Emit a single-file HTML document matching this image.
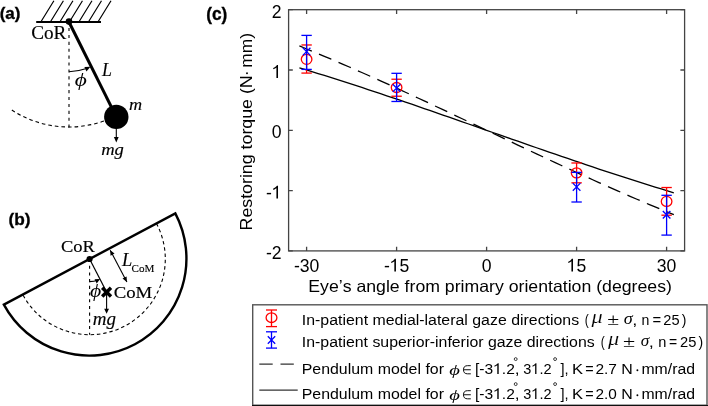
<!DOCTYPE html>
<html><head><meta charset="utf-8"><style>
html,body{margin:0;padding:0;background:#fff;width:708px;height:406px;overflow:hidden}
svg{display:block;will-change:transform}
text{font-family:"Liberation Sans",sans-serif;font-size:17.6px;fill:#000;font-kerning:none}
.serif{font-family:"Liberation Serif",serif}
.it{font-style:italic}
.bold{font-weight:bold}
</style></head><body>
<svg width="708" height="406" viewBox="0 0 708 406">
<polyline points="299.40,45.96 305.64,48.50 311.88,51.07 318.12,53.66 324.36,56.28 330.60,58.93 336.84,61.60 343.08,64.29 349.32,67.00 355.56,69.73 361.80,72.49 368.04,75.26 374.28,78.05 380.52,80.85 386.76,83.68 393.00,86.52 399.24,89.37 405.48,92.24 411.72,95.12 417.96,98.01 424.20,100.91 430.44,103.82 436.68,106.74 442.92,109.67 449.16,112.60 455.40,115.54 461.64,118.49 467.88,121.44 474.12,124.39 480.36,127.34 486.60,130.30 492.84,133.26 499.08,136.21 505.32,139.16 511.56,142.11 517.80,145.06 524.04,148.00 530.28,150.93 536.52,153.86 542.76,156.78 549.00,159.69 555.24,162.59 561.48,165.48 567.72,168.36 573.96,171.23 580.20,174.08 586.44,176.92 592.68,179.75 598.92,182.55 605.16,185.34 611.40,188.11 617.64,190.87 623.88,193.60 630.12,196.31 636.36,199.00 642.60,201.67 648.84,204.32 655.08,206.94 661.32,209.53 667.56,212.10 673.80,214.64" fill="none" stroke="#000" stroke-width="1.3" stroke-dasharray="13.4 7.8"/>
<polyline points="299.40,67.83 305.64,69.71 311.88,71.61 318.12,73.53 324.36,75.47 330.60,77.43 336.84,79.41 343.08,81.40 349.32,83.41 355.56,85.43 361.80,87.47 368.04,89.53 374.28,91.59 380.52,93.67 386.76,95.77 393.00,97.87 399.24,99.98 405.48,102.11 411.72,104.24 417.96,106.38 424.20,108.53 430.44,110.69 436.68,112.85 442.92,115.02 449.16,117.19 455.40,119.37 461.64,121.55 467.88,123.74 474.12,125.92 480.36,128.11 486.60,130.30 492.84,132.49 499.08,134.68 505.32,136.86 511.56,139.05 517.80,141.23 524.04,143.41 530.28,145.58 536.52,147.75 542.76,149.91 549.00,152.07 555.24,154.22 561.48,156.36 567.72,158.49 573.96,160.62 580.20,162.73 586.44,164.83 592.68,166.93 598.92,169.01 605.16,171.07 611.40,173.13 617.64,175.17 623.88,177.19 630.12,179.20 636.36,181.19 642.60,183.17 648.84,185.13 655.08,187.07 661.32,188.99 667.56,190.89 673.80,192.77" fill="none" stroke="#000" stroke-width="1.3"/>
<line x1="306.60" y1="44.98" x2="306.60" y2="73.08" stroke="#ff0000" stroke-width="1.3"/><line x1="301.40" y1="44.98" x2="311.80" y2="44.98" stroke="#ff0000" stroke-width="1.3"/><line x1="301.40" y1="73.08" x2="311.80" y2="73.08" stroke="#ff0000" stroke-width="1.3"/>
<line x1="396.60" y1="79.23" x2="396.60" y2="96.23" stroke="#ff0000" stroke-width="1.3"/><line x1="391.40" y1="79.23" x2="401.80" y2="79.23" stroke="#ff0000" stroke-width="1.3"/><line x1="391.40" y1="96.23" x2="401.80" y2="96.23" stroke="#ff0000" stroke-width="1.3"/>
<line x1="576.60" y1="162.98" x2="576.60" y2="182.82" stroke="#ff0000" stroke-width="1.3"/><line x1="571.40" y1="162.98" x2="581.80" y2="162.98" stroke="#ff0000" stroke-width="1.3"/><line x1="571.40" y1="182.82" x2="581.80" y2="182.82" stroke="#ff0000" stroke-width="1.3"/>
<line x1="666.60" y1="187.52" x2="666.60" y2="215.20" stroke="#ff0000" stroke-width="1.3"/><line x1="661.40" y1="187.52" x2="671.80" y2="187.52" stroke="#ff0000" stroke-width="1.3"/><line x1="661.40" y1="215.20" x2="671.80" y2="215.20" stroke="#ff0000" stroke-width="1.3"/>
<ellipse cx="306.60" cy="59.33" rx="5.3" ry="5.0" fill="none" stroke="#ff0000" stroke-width="1.3"/>
<ellipse cx="396.60" cy="87.49" rx="5.3" ry="5.0" fill="none" stroke="#ff0000" stroke-width="1.3"/>
<ellipse cx="576.60" cy="172.87" rx="5.3" ry="5.0" fill="none" stroke="#ff0000" stroke-width="1.3"/>
<ellipse cx="666.60" cy="201.39" rx="5.3" ry="5.0" fill="none" stroke="#ff0000" stroke-width="1.3"/>
<line x1="306.60" y1="35.39" x2="306.60" y2="69.40" stroke="#0000ff" stroke-width="1.3"/><line x1="301.40" y1="35.39" x2="311.80" y2="35.39" stroke="#0000ff" stroke-width="1.3"/><line x1="301.40" y1="69.40" x2="311.80" y2="69.40" stroke="#0000ff" stroke-width="1.3"/>
<line x1="396.60" y1="73.32" x2="396.60" y2="101.48" stroke="#0000ff" stroke-width="1.3"/><line x1="391.40" y1="73.32" x2="401.80" y2="73.32" stroke="#0000ff" stroke-width="1.3"/><line x1="391.40" y1="101.48" x2="401.80" y2="101.48" stroke="#0000ff" stroke-width="1.3"/>
<line x1="576.60" y1="172.39" x2="576.60" y2="202.00" stroke="#0000ff" stroke-width="1.3"/><line x1="571.40" y1="172.39" x2="581.80" y2="172.39" stroke="#0000ff" stroke-width="1.3"/><line x1="571.40" y1="202.00" x2="581.80" y2="202.00" stroke="#0000ff" stroke-width="1.3"/>
<line x1="666.60" y1="195.30" x2="666.60" y2="235.10" stroke="#0000ff" stroke-width="1.3"/><line x1="661.40" y1="195.30" x2="671.80" y2="195.30" stroke="#0000ff" stroke-width="1.3"/><line x1="661.40" y1="235.10" x2="671.80" y2="235.10" stroke="#0000ff" stroke-width="1.3"/>
<path d="M302.80 47.81L310.40 55.41M302.80 55.41L310.40 47.81" stroke="#0000ff" stroke-width="1.3" fill="none"/>
<path d="M392.80 84.29L400.40 91.89M392.80 91.89L400.40 84.29" stroke="#0000ff" stroke-width="1.3" fill="none"/>
<path d="M572.80 183.12L580.40 190.72M572.80 190.72L580.40 183.12" stroke="#0000ff" stroke-width="1.3" fill="none"/>
<path d="M662.80 210.98L670.40 218.58M662.80 218.58L670.40 210.98" stroke="#0000ff" stroke-width="1.3" fill="none"/>
<rect x="288.60" y="9.70" width="396.00" height="241.20" fill="none" stroke="#444" stroke-width="1.3"/>
<path d="M306.60 250.90V246.70M306.60 9.70V13.90M396.60 250.90V246.70M396.60 9.70V13.90M486.60 250.90V246.70M486.60 9.70V13.90M576.60 250.90V246.70M576.60 9.70V13.90M666.60 250.90V246.70M666.60 9.70V13.90M288.60 250.90H292.80M684.60 250.90H680.40M288.60 190.60H292.80M684.60 190.60H680.40M288.60 130.30H292.80M684.60 130.30H680.40M288.60 70.00H292.80M684.60 70.00H680.40M288.60 9.70H292.80M684.60 9.70H680.40" stroke="#444" stroke-width="1.3" fill="none"/>
<g transform="translate(293.88 271.60) scale(1.0000 1.0400)"><text x="0.00" y="0" style="font-size:17.6px">-30</text></g>
<g transform="translate(383.88 271.60) scale(1.0000 1.0400)"><text x="0.00" y="0" style="font-size:17.6px">-</text><polygon points="12.06,0.00 12.06,-12.32 10.96,-12.32 10.35,-11.53 9.47,-10.74 8.32,-10.03 7.30,-9.59 7.30,-8.24 8.50,-8.75 9.56,-9.33 10.47,-9.94 10.47,0.00" fill="#000"/><text x="15.65" y="0" style="font-size:17.6px">5</text></g>
<g transform="translate(481.71 271.60) scale(1.0000 1.0400)"><text x="0.00" y="0" style="font-size:17.6px">0</text></g>
<g transform="translate(566.81 271.60) scale(1.0000 1.0400)"><polygon points="6.20,0.00 6.20,-12.32 5.10,-12.32 4.49,-11.53 3.61,-10.74 2.46,-10.03 1.44,-9.59 1.44,-8.24 2.64,-8.75 3.70,-9.33 4.61,-9.94 4.61,0.00" fill="#000"/><text x="9.79" y="0" style="font-size:17.6px">5</text></g>
<g transform="translate(656.81 271.60) scale(1.0000 1.0400)"><text x="0.00" y="0" style="font-size:17.6px">30</text></g>
<g transform="translate(271.81 17.60) scale(1.0000 1.0400)"><text x="0.00" y="0" style="font-size:17.6px">2</text></g>
<g transform="translate(271.81 77.90) scale(1.0000 1.0400)"><polygon points="6.20,0.00 6.20,-12.32 5.10,-12.32 4.49,-11.53 3.61,-10.74 2.46,-10.03 1.44,-9.59 1.44,-8.24 2.64,-8.75 3.70,-9.33 4.61,-9.94 4.61,0.00" fill="#000"/></g>
<g transform="translate(271.81 138.20) scale(1.0000 1.0400)"><text x="0.00" y="0" style="font-size:17.6px">0</text></g>
<g transform="translate(265.95 198.50) scale(1.0000 1.0400)"><text x="0.00" y="0" style="font-size:17.6px">-</text><polygon points="12.06,0.00 12.06,-12.32 10.96,-12.32 10.35,-11.53 9.47,-10.74 8.32,-10.03 7.30,-9.59 7.30,-8.24 8.50,-8.75 9.56,-9.33 10.47,-9.94 10.47,0.00" fill="#000"/></g>
<g transform="translate(265.95 258.80) scale(1.0000 1.0400)"><text x="0.00" y="0" style="font-size:17.6px">-2</text></g>
<g transform="translate(308.25 292.30) scale(1.0058 0.9850)"><text x="0.00" y="0" style="font-size:17.6px">Eye’s angle from primary orientation (degrees)</text></g>
<g transform="translate(251.6 229.3) rotate(-90)"><g transform="translate(-1.16 0.00) scale(1.0113 0.9850)"><text x="0.00" y="0" style="font-size:17.6px">Restoring torque (N</text></g><circle cx="156.1" cy="-4.6" r="0.95" fill="#000"/><g transform="translate(161.55 0.00) scale(0.9872 0.9850)"><text x="0.00" y="0" style="font-size:17.6px">mm)</text></g></g>
<path d="M40.80 22L53.90 0.8M50.32 22L63.42 0.8M59.84 22L72.94 0.8M69.36 22L82.46 0.8M78.88 22L91.98 0.8M88.40 22L101.50 0.8M97.92 22L111.02 0.8" stroke="#000" stroke-width="1.2" fill="none"/>
<line x1="36.2" y1="22" x2="101" y2="22" stroke="#000" stroke-width="2.2"/>
<line x1="69" y1="22" x2="69" y2="127.5" stroke="#000" stroke-width="1.1" stroke-dasharray="3.1 3.8" stroke-dashoffset="0.9"/>
<path d="M11.81 110.06A105 105 0 0 0 115.03 116.37" stroke="#000" stroke-width="1.1" fill="none" stroke-dasharray="3.6 3"/>
<line x1="69" y1="22" x2="116.3" y2="116.9" stroke="#000" stroke-width="3"/>
<circle cx="69" cy="21.6" r="3.3" fill="#000"/>
<circle cx="116.3" cy="116.9" r="12.2" fill="#000"/>
<line x1="116.3" y1="128" x2="116.3" y2="138" stroke="#000" stroke-width="1.1"/>
<path d="M113.9 137L118.7 137L116.3 142.4Z" fill="#000"/>
<path d="M69.00 71.70A49.7 49.7 0 0 0 85.59 68.85" stroke="#000" stroke-width="1.1" fill="none"/>
<path d="M90.40 66.86L86.47 71.39L84.40 67.06Z" fill="#000"/>
<text transform="translate(31.21 39.22) scale(1.016 1)" class="serif" style="font-size:18.90px" stroke="#000" stroke-width="0.15">CoR</text>
<text transform="translate(102.11 75.50) scale(0.959 1)" class="serif it" style="font-size:18.63px" stroke="#000" stroke-width="0.15">L</text>
<text transform="translate(74.76 86.31) scale(1.245 1)" class="serif it" style="font-size:18.75px">ϕ</text>
<text transform="translate(128.94 110.20) scale(1.157 1)" class="serif it" style="font-size:15.70px" stroke="#000" stroke-width="0.15">m</text>
<text transform="translate(101.13 155.16) scale(1.087 1)" class="serif it" style="font-size:17.10px" stroke="#000" stroke-width="0.15">mg</text>
<path d="M3.87 304.59L175.33 213.41A97.1 97.1 0 0 1 3.87 304.59Z" fill="none" stroke="#000" stroke-width="2.4" stroke-linejoin="miter"/>
<path d="M156.44 223.46A75.7 75.7 0 0 1 22.76 294.54" fill="none" stroke="#000" stroke-width="1.1" stroke-dasharray="3.5 2.8"/>
<line x1="89.6" y1="259.0" x2="89.6" y2="334.7" stroke="#000" stroke-width="1.1" stroke-dasharray="3.1 3.6"/>
<line x1="89.6" y1="259.0" x2="106.60" y2="292.10" stroke="#000" stroke-width="1.2"/>
<circle cx="89.6" cy="259.0" r="3.1" fill="#000"/>
<path d="M102.20 287.70L111.00 296.50M102.20 296.50L111.00 287.70" stroke="#000" stroke-width="3.4"/>
<line x1="106.60" y1="292.10" x2="106.60" y2="309.5" stroke="#000" stroke-width="1.1"/>
<path d="M104.20 308.8L109.00 308.8L106.60 313.8Z" fill="#000"/>
<line x1="110.20" y1="250.20" x2="126.90" y2="281.90" stroke="#000" stroke-width="1.1"/>
<path d="M126.90 281.90L122.52 278.57L126.58 276.41Z" fill="#000"/>
<path d="M110.20 250.20L114.58 253.53L110.52 255.69Z" fill="#000"/>
<path d="M89.60 281.60A22.6 22.6 0 0 0 98.07 279.95" stroke="#000" stroke-width="1.1" fill="none"/>
<path d="M100.04 279.05L96.70 283.42L94.54 279.36Z" fill="#000"/>
<text transform="translate(60.94 251.73) scale(1.046 1)" class="serif" style="font-size:17.71px" stroke="#000" stroke-width="0.15">CoR</text>
<text transform="translate(113.63 297.74) scale(1.137 1)" class="serif" style="font-size:16.52px" stroke="#000" stroke-width="0.15">CoM</text>
<text transform="translate(122.02 265.50) scale(1.015 1)" class="serif it" style="font-size:18.17px" stroke="#000" stroke-width="0.15">L</text>
<text transform="translate(131.54 271.90) scale(1.084 1)" class="serif" style="font-size:10.27px" stroke="#000" stroke-width="0.12">CoM</text>
<text transform="translate(90.00 296.65) scale(1.197 1)" class="serif it" style="font-size:18.09px">ϕ</text>
<text transform="translate(92.71 325.32) scale(0.993 1)" class="serif it" style="font-size:19.15px" stroke="#000" stroke-width="0.15">mg</text>
<text transform="translate(-0.35 19.22) scale(0.985 1)" class="bold" style="font-size:17.27px" stroke="#000" stroke-width="0.35">(a)</text>
<text transform="translate(8.54 224.89) scale(0.992 1)" class="bold" style="font-size:17.38px" stroke="#000" stroke-width="0.35">(b)</text>
<text transform="translate(206.14 20.13) scale(0.976 1)" class="bold" style="font-size:17.70px" stroke="#000" stroke-width="0.35">(c)</text>
<rect x="252.7" y="304.8" width="454.3" height="100.4" fill="#fff" stroke="#555" stroke-width="1.4"/>
<line x1="252" y1="405.5" x2="708" y2="405.5" stroke="#111" stroke-width="1.1"/>
<line x1="271.5" y1="310" x2="271.5" y2="326.6" stroke="#ff0000" stroke-width="1.3"/><line x1="266" y1="310" x2="277" y2="310" stroke="#ff0000" stroke-width="1.3"/><line x1="266" y1="326.6" x2="277" y2="326.6" stroke="#ff0000" stroke-width="1.3"/><ellipse cx="271.5" cy="317.7" rx="5.4" ry="4.8" fill="none" stroke="#ff0000" stroke-width="1.3"/>
<line x1="271.5" y1="331.8" x2="271.5" y2="348.1" stroke="#0000ff" stroke-width="1.3"/><line x1="266" y1="331.8" x2="277" y2="331.8" stroke="#0000ff" stroke-width="1.3"/><line x1="266" y1="348.1" x2="277" y2="348.1" stroke="#0000ff" stroke-width="1.3"/><path d="M267.8 336.3L275.2 343.7M267.8 343.7L275.2 336.3" stroke="#0000ff" stroke-width="1.3"/>
<line x1="259.3" y1="364.2" x2="293.8" y2="364.2" stroke="#333" stroke-width="1.3" stroke-dasharray="13.4 7.8"/>
<line x1="259.3" y1="390.2" x2="297.7" y2="390.2" stroke="#333" stroke-width="1.3"/>
<g transform="translate(301.83 325.00) scale(1.0389 1.0000)"><text x="0.00" y="0" style="font-size:15.3px">In-patient medial-lateral gaze directions</text></g>
<g transform="translate(584.65 325.00) scale(0.7888 1.0000)"><text x="0.00" y="0" style="font-size:15.3px">(</text></g>
<text transform="translate(591.52 323.32) scale(1.233 1)" class="serif it" style="font-size:18.13px" stroke="#fff" stroke-width="0.15">μ</text>
<text transform="translate(607.30 325.30) scale(1.226 1)" class="serif" style="font-size:17.70px">±</text>
<text transform="translate(623.66 324.15) scale(1.151 1)" class="serif it" style="font-size:15.80px">σ</text>
<g transform="translate(632.25 325.00) scale(1.1987 1.0000)"><text x="0.00" y="0" style="font-size:15.3px">,</text></g>
<g transform="translate(641.56 325.00) scale(0.9231 1.0000)"><text x="0.00" y="0" style="font-size:15.3px">n</text></g>
<g transform="translate(652.38 325.00) scale(0.9686 1.0000)"><text x="0.00" y="0" style="font-size:15.3px">=</text></g>
<g transform="translate(663.37 325.00) scale(0.9547 1.0000)"><text x="0.00" y="0" style="font-size:15.3px">25</text></g>
<g transform="translate(681.82 325.00) scale(0.9121 1.0000)"><text x="0.00" y="0" style="font-size:15.3px">)</text></g>
<g transform="translate(301.83 346.90) scale(1.0386 1.0000)"><text x="0.00" y="0" style="font-size:15.3px">In-patient superior-inferior gaze directions</text></g>
<g transform="translate(600.65 346.90) scale(0.7888 1.0000)"><text x="0.00" y="0" style="font-size:15.3px">(</text></g>
<text transform="translate(608.12 345.22) scale(1.233 1)" class="serif it" style="font-size:18.13px" stroke="#fff" stroke-width="0.15">μ</text>
<text transform="translate(623.08 347.20) scale(1.250 1)" class="serif" style="font-size:17.70px">±</text>
<text transform="translate(640.79 346.05) scale(1.087 1)" class="serif it" style="font-size:15.80px">σ</text>
<g transform="translate(648.85 346.90) scale(1.1987 1.0000)"><text x="0.00" y="0" style="font-size:15.3px">,</text></g>
<g transform="translate(658.23 346.90) scale(0.9539 1.0000)"><text x="0.00" y="0" style="font-size:15.3px">n</text></g>
<g transform="translate(669.12 346.90) scale(0.9148 1.0000)"><text x="0.00" y="0" style="font-size:15.3px">=</text></g>
<g transform="translate(679.96 346.90) scale(0.9612 1.0000)"><text x="0.00" y="0" style="font-size:15.3px">25</text></g>
<g transform="translate(698.62 346.90) scale(0.9121 1.0000)"><text x="0.00" y="0" style="font-size:15.3px">)</text></g>
<g transform="translate(301.70 373.90) scale(1.0398 1.0000)"><text x="0.00" y="0" style="font-size:15.3px">Pendulum model for</text></g>
<text transform="translate(449.33 374.89) scale(1.324 1)" class="serif it" style="font-size:15.55px">ϕ</text>
<path d="M470.80 365.68H467.55A4.07 4.07 0 0 0 467.55 373.82H470.80M463.48 369.75H470.80" fill="none" stroke="#000" stroke-width="0.95"/>
<g transform="translate(474.99 373.90) scale(1.0198 1.0000)"><text x="0.00" y="0" style="font-size:15.3px">[-3</text><polygon points="23.24,0.00 23.24,-10.71 22.29,-10.71 21.76,-10.02 20.99,-9.33 20.00,-8.72 19.11,-8.34 19.11,-7.16 20.15,-7.60 21.07,-8.11 21.86,-8.64 21.86,0.00" fill="#000"/><text x="26.36" y="0" style="font-size:15.3px">.2</text></g>
<circle cx="515.7" cy="359.1" r="1.45" fill="none" stroke="#000" stroke-width="0.75"/>
<g transform="translate(514.64 373.90) scale(1.1321 1.0000)"><text x="0.00" y="0" style="font-size:15.3px">,</text></g>
<g transform="translate(523.25 373.90) scale(0.9498 1.0000)"><text x="0.00" y="0" style="font-size:15.3px">3</text><polygon points="13.89,0.00 13.89,-10.71 12.95,-10.71 12.41,-10.02 11.65,-9.33 10.65,-8.72 9.76,-8.34 9.76,-7.16 10.80,-7.60 11.72,-8.11 12.52,-8.64 12.52,0.00" fill="#000"/><text x="17.02" y="0" style="font-size:15.3px">.2</text></g>
<circle cx="555.1" cy="359.1" r="1.45" fill="none" stroke="#000" stroke-width="0.75"/>
<g transform="translate(560.49 373.90) scale(0.9561 1.0000)"><text x="0.00" y="0" style="font-size:15.3px">],</text></g>
<g transform="translate(571.94 373.90) scale(1.0822 1.0000)"><text x="0.00" y="0" style="font-size:15.3px">K</text></g>
<g transform="translate(585.20 373.90) scale(0.9417 1.0000)"><text x="0.00" y="0" style="font-size:15.3px">=</text></g>
<g transform="translate(595.42 373.90) scale(1.0137 1.0000)"><text x="0.00" y="0" style="font-size:15.3px">2.7</text></g>
<g transform="translate(621.19 373.90) scale(1.0414 1.0000)"><text x="0.00" y="0" style="font-size:15.3px">N</text></g>
<circle cx="637.4" cy="370.29999999999995" r="0.95" fill="#000"/>
<g transform="translate(641.45 373.90) scale(1.0331 1.0000)"><text x="0.00" y="0" style="font-size:15.3px">mm/rad</text></g>
<g transform="translate(301.70 398.90) scale(1.0398 1.0000)"><text x="0.00" y="0" style="font-size:15.3px">Pendulum model for</text></g>
<text transform="translate(449.33 399.89) scale(1.324 1)" class="serif it" style="font-size:15.55px">ϕ</text>
<path d="M470.80 390.68H467.55A4.07 4.07 0 0 0 467.55 398.82H470.80M463.48 394.75H470.80" fill="none" stroke="#000" stroke-width="0.95"/>
<g transform="translate(474.99 398.90) scale(1.0198 1.0000)"><text x="0.00" y="0" style="font-size:15.3px">[-3</text><polygon points="23.24,0.00 23.24,-10.71 22.29,-10.71 21.76,-10.02 20.99,-9.33 20.00,-8.72 19.11,-8.34 19.11,-7.16 20.15,-7.60 21.07,-8.11 21.86,-8.64 21.86,0.00" fill="#000"/><text x="26.36" y="0" style="font-size:15.3px">.2</text></g>
<circle cx="515.7" cy="384.1" r="1.45" fill="none" stroke="#000" stroke-width="0.75"/>
<g transform="translate(514.64 398.90) scale(1.1321 1.0000)"><text x="0.00" y="0" style="font-size:15.3px">,</text></g>
<g transform="translate(523.25 398.90) scale(0.9498 1.0000)"><text x="0.00" y="0" style="font-size:15.3px">3</text><polygon points="13.89,0.00 13.89,-10.71 12.95,-10.71 12.41,-10.02 11.65,-9.33 10.65,-8.72 9.76,-8.34 9.76,-7.16 10.80,-7.60 11.72,-8.11 12.52,-8.64 12.52,0.00" fill="#000"/><text x="17.02" y="0" style="font-size:15.3px">.2</text></g>
<circle cx="555.1" cy="384.1" r="1.45" fill="none" stroke="#000" stroke-width="0.75"/>
<g transform="translate(560.49 398.90) scale(0.9561 1.0000)"><text x="0.00" y="0" style="font-size:15.3px">],</text></g>
<g transform="translate(571.94 398.90) scale(1.0822 1.0000)"><text x="0.00" y="0" style="font-size:15.3px">K</text></g>
<g transform="translate(585.20 398.90) scale(0.9417 1.0000)"><text x="0.00" y="0" style="font-size:15.3px">=</text></g>
<g transform="translate(595.43 398.90) scale(1.0049 1.0000)"><text x="0.00" y="0" style="font-size:15.3px">2.0</text></g>
<g transform="translate(621.19 398.90) scale(1.0414 1.0000)"><text x="0.00" y="0" style="font-size:15.3px">N</text></g>
<circle cx="637.4" cy="395.29999999999995" r="0.95" fill="#000"/>
<g transform="translate(641.45 398.90) scale(1.0331 1.0000)"><text x="0.00" y="0" style="font-size:15.3px">mm/rad</text></g>
</svg></body></html>
